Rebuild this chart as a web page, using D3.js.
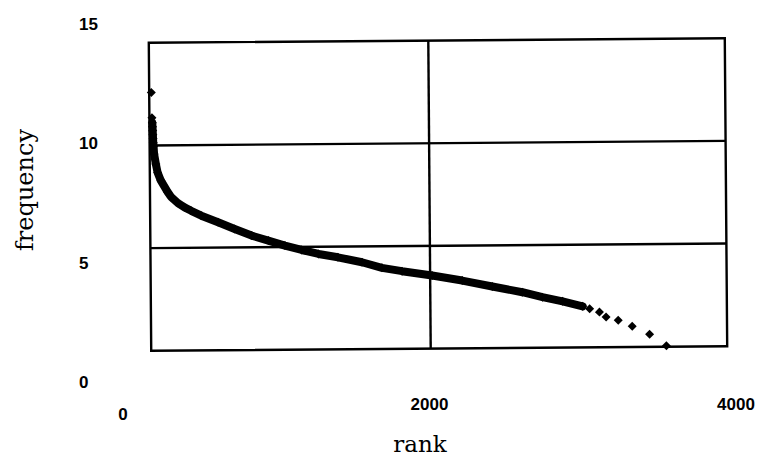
<!DOCTYPE html>
<html>
<head>
<meta charset="utf-8">
<script src="https://cdn.jsdelivr.net/npm/d3@7"></script>
<style>
  html, body { margin: 0; padding: 0; background: #fff; }
  svg { display: block; }
</style>
</head>
<body>
<svg id="chart" width="758" height="457"></svg>
<script>
// Rank / frequency readings
// isolated high-frequency words at the very top of the ranking
const topRanks = [190, 193];
const topFreq  = [12.58, 11.35];
// the dense run of words, drawn as a continuous band of markers
const bandRanks = [195, 196, 197, 198, 199, 200, 202, 205, 216, 227, 248, 292, 314, 358, 401, 444,
                   510, 619, 727, 837, 946, 1054, 1163, 1273, 1399, 1556, 1686, 1817, 2013, 2209,
                   2405, 2601, 2732, 2863, 2993];
const bandFreq  = [11.1, 10.91, 10.72, 10.52, 10.33, 10.13, 9.96, 9.58, 9.09, 8.68, 8.28, 7.72, 7.48, 7.18, 6.97, 6.80,
                   6.56, 6.23, 5.90, 5.57, 5.32, 5.07, 4.85, 4.65, 4.48, 4.23, 3.95, 3.78, 3.56, 3.30,
                   3.00, 2.71, 2.46, 2.25, 2.0];
// the sparse tail of rare words
const tailRanks = [3039, 3103, 3146, 3225, 3316, 3429, 3538];
const tailFreq  = [1.88, 1.71, 1.47, 1.31, 1.01, 0.61, 0.05];

// axis tick labels
const xTicks = [0, 2000, 4000];
const yTicks = [0, 5, 10, 15];
const yGrid = [5, 10];
const xGrid = [2000];

const svg = d3.select("#chart");

// plot frame (pixels)
const frame = { left: 150, right: 726, top: 40.5, bottom: 348.5 };

const x = d3.scaleLinear().domain([0, 4000]).range([123, 736]);
const y = d3.scaleLinear().domain([0, 15]).range([frame.bottom, frame.top]);
// positions for the printed y tick labels
const yLabel = d3.scaleLinear().domain([0, 15]).range([388, 30]);

const cx = (frame.left + frame.right) / 2, cy = (frame.top + frame.bottom) / 2;
const plot = svg.append("g").attr("transform", `rotate(-0.45, ${cx}, ${cy})`);

const ink = "#000";
const ruleWidth = 2.4;

// gridlines
plot.selectAll("line.hgrid").data(yGrid).join("line")
  .attr("class", "hgrid")
  .attr("x1", frame.left).attr("x2", frame.right)
  .attr("y1", d => y(d)).attr("y2", d => y(d))
  .attr("stroke", ink).attr("stroke-width", ruleWidth);
plot.selectAll("line.vgrid").data(xGrid).join("line")
  .attr("class", "vgrid")
  .attr("x1", d => x(d)).attr("x2", d => x(d))
  .attr("y1", frame.top).attr("y2", frame.bottom)
  .attr("stroke", ink).attr("stroke-width", ruleWidth);

// frame
plot.append("rect")
  .attr("x", frame.left).attr("y", frame.top)
  .attr("width", frame.right - frame.left).attr("height", frame.bottom - frame.top)
  .attr("fill", "none").attr("stroke", ink).attr("stroke-width", ruleWidth);

const band = bandRanks.map((r, i) => [r, bandFreq[i]]);
const tops = topRanks.map((r, i) => [r, topFreq[i]]);
const tail = tailRanks.map((r, i) => [r, tailFreq[i]]);

// dense band
plot.append("path")
  .datum(band)
  .attr("d", d3.line().x(d => x(d[0])).y(d => y(d[1])))
  .attr("fill", "none").attr("stroke", ink)
  .attr("stroke-width", 8).attr("stroke-linejoin", "round").attr("stroke-linecap", "round");

// diamond markers
const diamond = r => `M0,${-r}L${r},0L0,${r}L${-r},0Z`;
plot.selectAll("path.mk").data(tops.concat(band, tail)).join("path")
  .attr("class", "mk")
  .attr("d", diamond(4.5))
  .attr("transform", d => `translate(${x(d[0])},${y(d[1])})`)
  .attr("fill", ink);

// tick labels
const tickFont = "'Liberation Sans', Arial, sans-serif";
svg.selectAll("text.ytick").data(yTicks).join("text")
  .attr("class", "ytick")
  .attr("x", 79).attr("y", d => yLabel(d))
  .attr("font-family", tickFont).attr("font-weight", 700).attr("font-size", 17)
  .attr("fill", ink)
  .text(d => d);
svg.selectAll("text.xtick").data(xTicks).join("text")
  .attr("class", "xtick")
  .attr("x", d => x(d)).attr("y", d => d === 0 ? 420 : 410)
  .attr("text-anchor", "middle")
  .attr("font-family", tickFont).attr("font-weight", 700).attr("font-size", 17)
  .attr("fill", ink)
  .text(d => d);

// axis titles
svg.append("text")
  .attr("x", 420).attr("y", 452)
  .attr("text-anchor", "middle")
  .attr("font-family", "'DejaVu Serif', serif").attr("font-size", 23)
  .attr("fill", ink)
  .text("rank");
svg.append("text")
  .attr("transform", "translate(33,190) rotate(-90)")
  .attr("text-anchor", "middle")
  .attr("font-family", "'DejaVu Serif', serif").attr("font-size", 24)
  .attr("fill", ink)
  .text("frequency");
</script>
</body>
</html>
